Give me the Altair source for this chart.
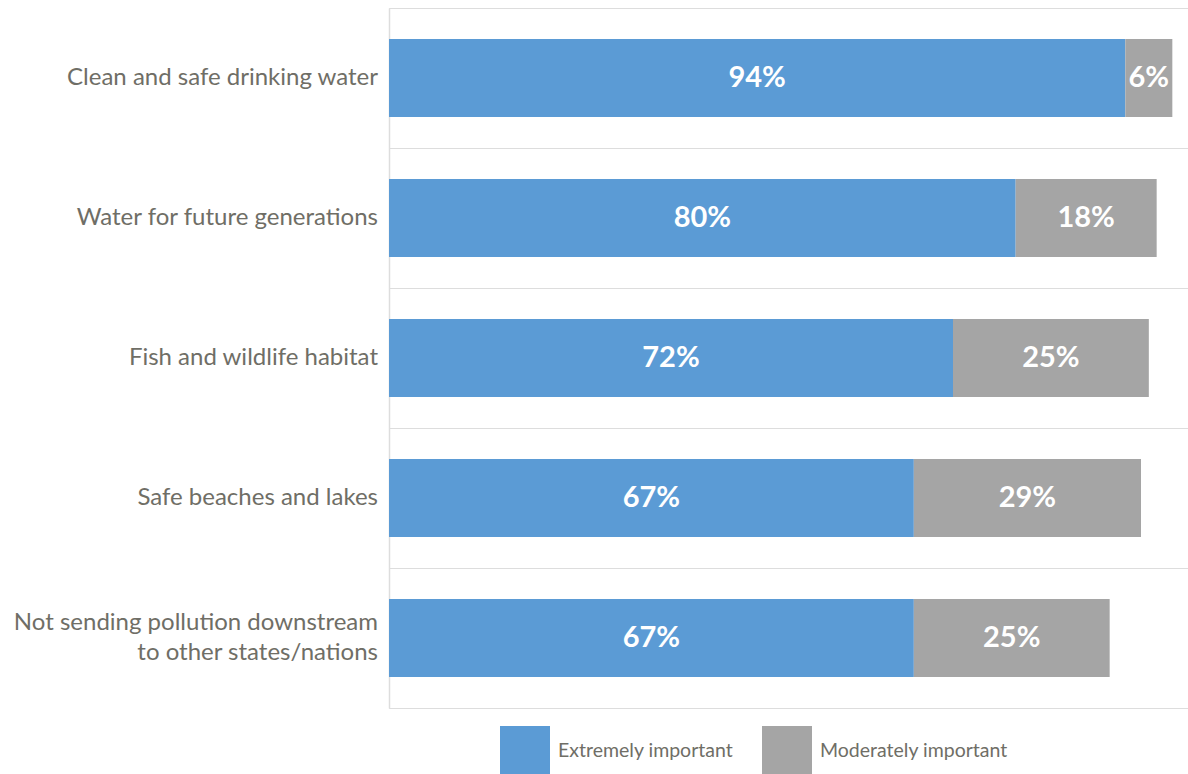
import altair as alt
import pandas as pd

categories = [
    "Clean and safe drinking water",
    "Water for future generations",
    "Fish and wildlife habitat",
    "Safe beaches and lakes",
    "Not sending pollution downstream|to other states/nations",
]
extremely = [94, 80, 72, 67, 67]
moderately = [6, 18, 25, 29, 25]
series_names = ["Extremely important", "Moderately important"]
colors = ["#5b9bd5", "#a5a5a5"]

rows = []
for c, e, m in zip(categories, extremely, moderately):
    rows.append({"category": c, "type": series_names[0], "value": e, "order": 0})
    rows.append({"category": c, "type": series_names[1], "value": m, "order": 1})
df = pd.DataFrame(rows)
cat_df = pd.DataFrame({"category": categories})

FONT = "Lato"
TXT = "#6f6e66"

base = alt.Chart(df).transform_stack(
    stack="value", as_=["x0", "x1"], groupby=["category"],
    sort=[alt.SortField("order", order="ascending")]
).transform_calculate(
    mid="(datum.x0 + datum.x1) / 2",
    lab="datum.value + '%'"
)

y_enc = alt.Y(
    "category:N", sort=categories, title=None,
    scale=alt.Scale(paddingInner=0, paddingOuter=0),
    axis=alt.Axis(
        labels=False, ticks=False, tickBand="extent", grid=True,
        gridColor="#dddddd", gridWidth=1.2, domainColor="#dddddd",
        domainWidth=1.5,
    ),
)
x_scale = alt.Scale(domain=[0, 102], nice=False, zero=True)

bars = base.mark_bar(size=78).encode(
    y=y_enc,
    x=alt.X("x0:Q", scale=x_scale, axis=None),
    x2="x1:Q",
    color=alt.Color(
        "type:N",
        scale=alt.Scale(domain=series_names, range=colors),
        legend=alt.Legend(
            title=None, orient="none", direction="horizontal",
            legendX=111, legendY=718, symbolType="square", symbolSize=2500,
            symbolStrokeWidth=0, labelFont=FONT, labelFontSize=19.5,
            labelColor=TXT, labelOffset=8, columnPadding=28, padding=0,
            labelLimit=400,
        ),
    ),
    order=alt.Order("order:Q"),
)

texts = base.mark_text(
    font=FONT, fontSize=29, fontWeight="bold", color="white",
    align="center", baseline="middle",
).encode(
    y=alt.Y("category:N", sort=categories),
    x=alt.X("mid:Q", scale=x_scale),
    text="lab:N",
)

label_common = dict(font=FONT, fontSize=24, color=TXT, align="right",
                    baseline="middle", lineBreak="|", lineHeight=30)

labels_single = alt.Chart(cat_df).transform_filter(
    "indexof(datum.category, '|') < 0"
).mark_text(**label_common).encode(
    y=alt.Y("category:N", sort=categories),
    x=alt.value(-11),
    text="category:N",
)

labels_multi = alt.Chart(cat_df).transform_filter(
    "indexof(datum.category, '|') >= 0"
).mark_text(dy=-15, **label_common).encode(
    y=alt.Y("category:N", sort=categories),
    x=alt.value(-11),
    text="category:N",
)

chart = alt.layer(bars, texts, labels_single, labels_multi).properties(
    width=799, height=700,
    autosize=alt.AutoSizeParams(type="none"),
    padding={"left": 389, "top": 8, "right": 0, "bottom": 66},
).configure_view(stroke=None).configure(background="white")

chart.save("out.html", embed_options={"renderer": "svg", "actions": False})
